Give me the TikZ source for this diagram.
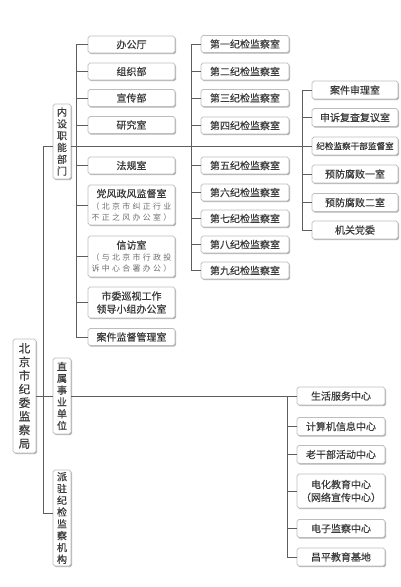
\documentclass[tikz,border=0pt]{standalone}
\usepackage{fontspec}
\setmainfont{Noto Sans CJK SC}[FakeBold=0.45]
\newfontfamily\subf{Noto Sans CJK SC}[LetterSpace=30]
\usetikzlibrary{shadows}
\definecolor{txt}{HTML}{3A3A3A}
\definecolor{subc}{HTML}{6E6E6E}
\definecolor{ln}{HTML}{5E5E5E}
\definecolor{bd}{HTML}{BDBDBD}
\newcommand\subtxt[1]{{\subf\fontsize{7.9}{9.5}\selectfont\color{subc}#1}}
\begin{document}
\begin{tikzpicture}[x=1pt,y=-1pt,
  box/.style={draw=bd, fill=white, rounded corners=1.8pt, line width=0.7pt,
    drop shadow={shadow xshift=1pt, shadow yshift=-1.1pt, fill=black, opacity=0.3},
    text=txt, inner sep=0pt, align=center, font=\fontsize{10}{13}\selectfont},
  colA/.style={box, minimum width=87pt, minimum height=17pt},
  colB/.style={box, minimum width=88pt, minimum height=17pt},
  colC/.style={box, minimum width=86pt, minimum height=18pt},
  colD/.style={box, minimum width=88pt, minimum height=18pt},
  vbox/.style={box, minimum width=18pt, font=\fontsize{10}{11.8}\selectfont},
  conn/.style={draw=ln, line width=0.65pt}]
\useasboundingbox (0,0) rectangle (400,587);

% root and second level
\node[box, minimum width=23pt, minimum height=114pt, font=\fontsize{11.5}{13.6}\selectfont] (root) at (24.5,396) {北\\京\\市\\纪\\委\\监\\察\\局};
\node[vbox, minimum height=75pt] (ns) at (62,141.5) {内\\设\\职\\能\\部\\门};
\node[vbox, minimum height=76pt] (zs) at (62,396) {直\\属\\事\\业\\单\\位};
\node[vbox, minimum height=96pt] (pz) at (62,518) {派\\驻\\纪\\检\\监\\察\\机\\构};

% column A
\node[colA] (a1) at (131.5,44.5) {办公厅};
\node[colA] (a2) at (131.5,71.5) {组织部};
\node[colA] (a3) at (131.5,98) {宣传部};
\node[colA] (a4) at (131.5,125) {研究室};
\node[colA] (a5) at (131.5,165.5) {法规室};
\node[colA, minimum height=40pt] (a6) at (131.5,205) {党风政风监督室\\[-1pt]\subtxt{（北京市纠正行业}\\[-2pt]\subtxt{不正之风办公室）}};
\node[colA, minimum height=41pt] (a7) at (131.5,256.5) {信访室\\[-1pt]\subtxt{（与北京市行政投}\\[-2pt]\subtxt{诉中心合署办公）}};
\node[colA, minimum height=31pt] (a8) at (131.5,302.5) {市委巡视工作\\领导小组办公室};
\node[colA] (a9) at (131.5,337) {案件监督管理室};

% column B
\node[colB] (b1) at (245,44) {第一纪检监察室};
\node[colB] (b2) at (245,71.5) {第二纪检监察室};
\node[colB] (b3) at (245,98) {第三纪检监察室};
\node[colB] (b4) at (245,125.5) {第四纪检监察室};
\node[colB] (b5) at (245,165.5) {第五纪检监察室};
\node[colB] (b6) at (245,192.5) {第六纪检监察室};
\node[colB] (b7) at (245,218.5) {第七纪检监察室};
\node[colB] (b8) at (245,244.5) {第八纪检监察室};
\node[colB] (b9) at (245,270.5) {第九纪检监察室};

% column C
\node[colC] (c1) at (355,90) {案件审理室};
\node[colC] (c2) at (355,117.5) {申诉复查复议室};
\node[colC, font=\fontsize{8.6}{10}\selectfont] (c3) at (355,146) {纪检监察干部监督室};
\node[colC] (c4) at (355,174) {预防腐败一室};
\node[colC] (c5) at (355,202.5) {预防腐败二室};
\node[colC] (c6) at (355,230) {机关党委};

% column D
\node[colD] (d1) at (341,396) {生活服务中心};
\node[colD] (d2) at (341,426.5) {计算机信息中心};
\node[colD] (d3) at (341,454.5) {老干部活动中心};
\node[colD, minimum height=34pt] (d4) at (341,491) {电化教育中心\\（网络宣传中心）};
\node[colD] (d5) at (341,528.5) {电子监察中心};
\node[colD] (d6) at (341,557) {昌平教育基地};

% trunk
\coordinate (tTop) at (43,146);
\coordinate (tBot) at (43,513);
\draw[conn] (root.east) -- (zs.west);
\draw[conn] (ns.west |- tTop) -- (tTop) -- (tBot) -- (pz.west |- tBot);
\draw[conn] (ns.east |- tTop) -- (c3.west);

% column A bracket
\draw[conn] (a1.west) -- ++(-11,0) |- (a9.west);
\foreach \n in {a2,a3,a4,a5,a6,a7,a8} \draw[conn] (\n.west) -- ++(-11,0);
% column B bracket
\draw[conn] (b1.west) -- ++(-9,0) |- (b9.west);
\foreach \n in {b2,b3,b4,b5,b6,b7,b8} \draw[conn] (\n.west) -- ++(-9,0);
% column C bracket
\draw[conn] (c1.west) -- ++(-9,0) |- (c6.west);
\foreach \n in {c2,c4,c5} \draw[conn] (\n.west) -- ++(-9,0);
% column D bracket
\coordinate (dj) at (287,396);
\draw[conn] (zs.east) -- (dj) |- (d6.west);
\foreach \n in {d1,d2,d3,d4,d5} \draw[conn] (\n.west) -- (dj |- \n.west);
\end{tikzpicture}
\end{document}
